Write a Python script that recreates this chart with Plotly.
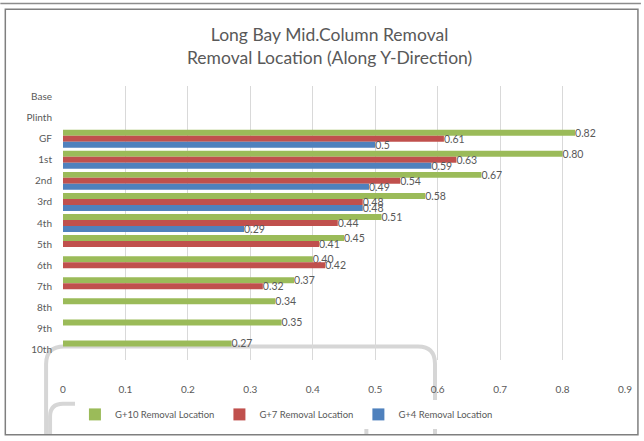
import plotly.graph_objects as go

floors = ["Base", "Plinth", "GF", "1st", "2nd", "3rd", "4th", "5th", "6th", "7th", "8th", "9th", "10th"]
g10 = [None, None, 0.82, 0.80, 0.67, 0.58, 0.51, 0.45, 0.40, 0.37, 0.34, 0.35, 0.27]
g7 = [None, None, 0.61, 0.63, 0.54, 0.48, 0.44, 0.41, 0.42, 0.32, None, None, None]
g4 = [None, None, 0.50, 0.59, 0.49, 0.48, 0.29, None, None, None, None, None, None]
g10_text = ["", "", "0.82", "0.80", "0.67", "0.58", "0.51", "0.45", "0.40", "0.37", "0.34", "0.35", "0.27"]
g7_text = ["", "", "0.61", "0.63", "0.54", "0.48", "0.44", "0.41", "0.42", "0.32", "", "", ""]
g4_text = ["", "", "0.5", "0.59", "0.49", "0.48", "0.29", "", "", "", "", "", ""]
x_ticks = [0, 0.1, 0.2, 0.3, 0.4, 0.5, 0.6, 0.7, 0.8, 0.9]

FONT = "Lato"
GREY = "#595959"

series = [
    ("G+10 Removal Location", g10, g10_text, "#9BBB59"),
    ("G+7 Removal Location", g7, g7_text, "#C0504D"),
    ("G+4 Removal Location", g4, g4_text, "#4F81BD"),
]

fig = go.Figure()
for name, vals, txt, col in series:
    fig.add_trace(go.Bar(
        y=floors, x=vals, name=name, orientation="h",
        marker=dict(color=col, line=dict(width=0)),
        text=txt, textposition="outside", constraintext="none", textangle=0,
        textfont=dict(family=FONT, size=10.5, color=GREY),
        cliponaxis=False,
    ))

W, H = 644, 441
L, R, T, B = 63, 628, 86, 368
def px(x):
    return (x - L) / (R - L)
def py(y):
    return (B - y) / (B - T)

def path(points_cmds):
    out = []
    for cmd, *pts in points_cmds:
        coords = " ".join(f"{px(x):.5f},{py(y):.5f}" for x, y in zip(pts[0::2], pts[1::2]))
        out.append(f"{cmd} {coords}")
    return " ".join(out)

ART = "#d6d6d6"
shapes = [
    dict(type="line", xref="paper", yref="paper", x0=px(0), x1=px(W), y0=py(1), y1=py(1),
         line=dict(color="#8c8c8c", width=1.5)),
    dict(type="rect", xref="paper", yref="paper", x0=px(5), x1=px(641), y0=py(7), y1=py(445),
         line=dict(color="#7f7f7f", width=1.5)),
    # faint overlay artefacts seen in the reference
    dict(type="path", xref="paper", yref="paper", layer="below",
         path=path([("M", 46, 445), ("L", 46, 372), ("Q", 46, 354, 64, 354),
                    ("L", 420, 354), ("Q", 437, 354, 437, 372), ("L", 437, 445)]),
         line=dict(color=ART, width=4)),
    dict(type="path", xref="paper", yref="paper", layer="below",
         path=path([("M", 50, 445), ("L", 50, 426), ("Q", 50, 413, 63, 413),
                    ("L", 356, 413), ("Q", 368, 413, 368, 426), ("L", 368, 445)]),
         line=dict(color=ART, width=4)),
]

fig.update_layout(
    width=W, height=H,
    margin=dict(l=L, r=W - R, t=T, b=H - B),
    paper_bgcolor="white", plot_bgcolor="white",
    barmode="group", bargap=0.15, bargroupgap=0,
    title=dict(text="Long Bay Mid.Column Removal<br>Removal Location (Along Y-Direction)",
               x=px(331), xref="paper", xanchor="center", y=1 - 41 / H, yanchor="middle",
               font=dict(family=FONT, size=17.5, color=GREY)),
    xaxis=dict(range=[0, 0.9], tickvals=x_ticks, ticktext=[str(v) for v in x_ticks],
               showgrid=True, gridcolor="#D9D9D9", gridwidth=1, zeroline=False,
               showline=False, ticks="", ticklabelstandoff=22,
               tickfont=dict(family=FONT, size=10, color=GREY)),
    yaxis=dict(categoryorder="array", categoryarray=floors, autorange="reversed",
               showgrid=False, showline=False, ticks="", ticklabelstandoff=10,
               tickfont=dict(family=FONT, size=10, color=GREY)),
    legend=dict(orientation="h", x=px(75), xanchor="left", y=py(424), yanchor="middle",
                font=dict(family=FONT, size=9.5, color=GREY), itemwidth=30,
                traceorder="normal"),
    shapes=shapes,
    font=dict(family=FONT, color=GREY),
)

fig.write_html("out.html")
